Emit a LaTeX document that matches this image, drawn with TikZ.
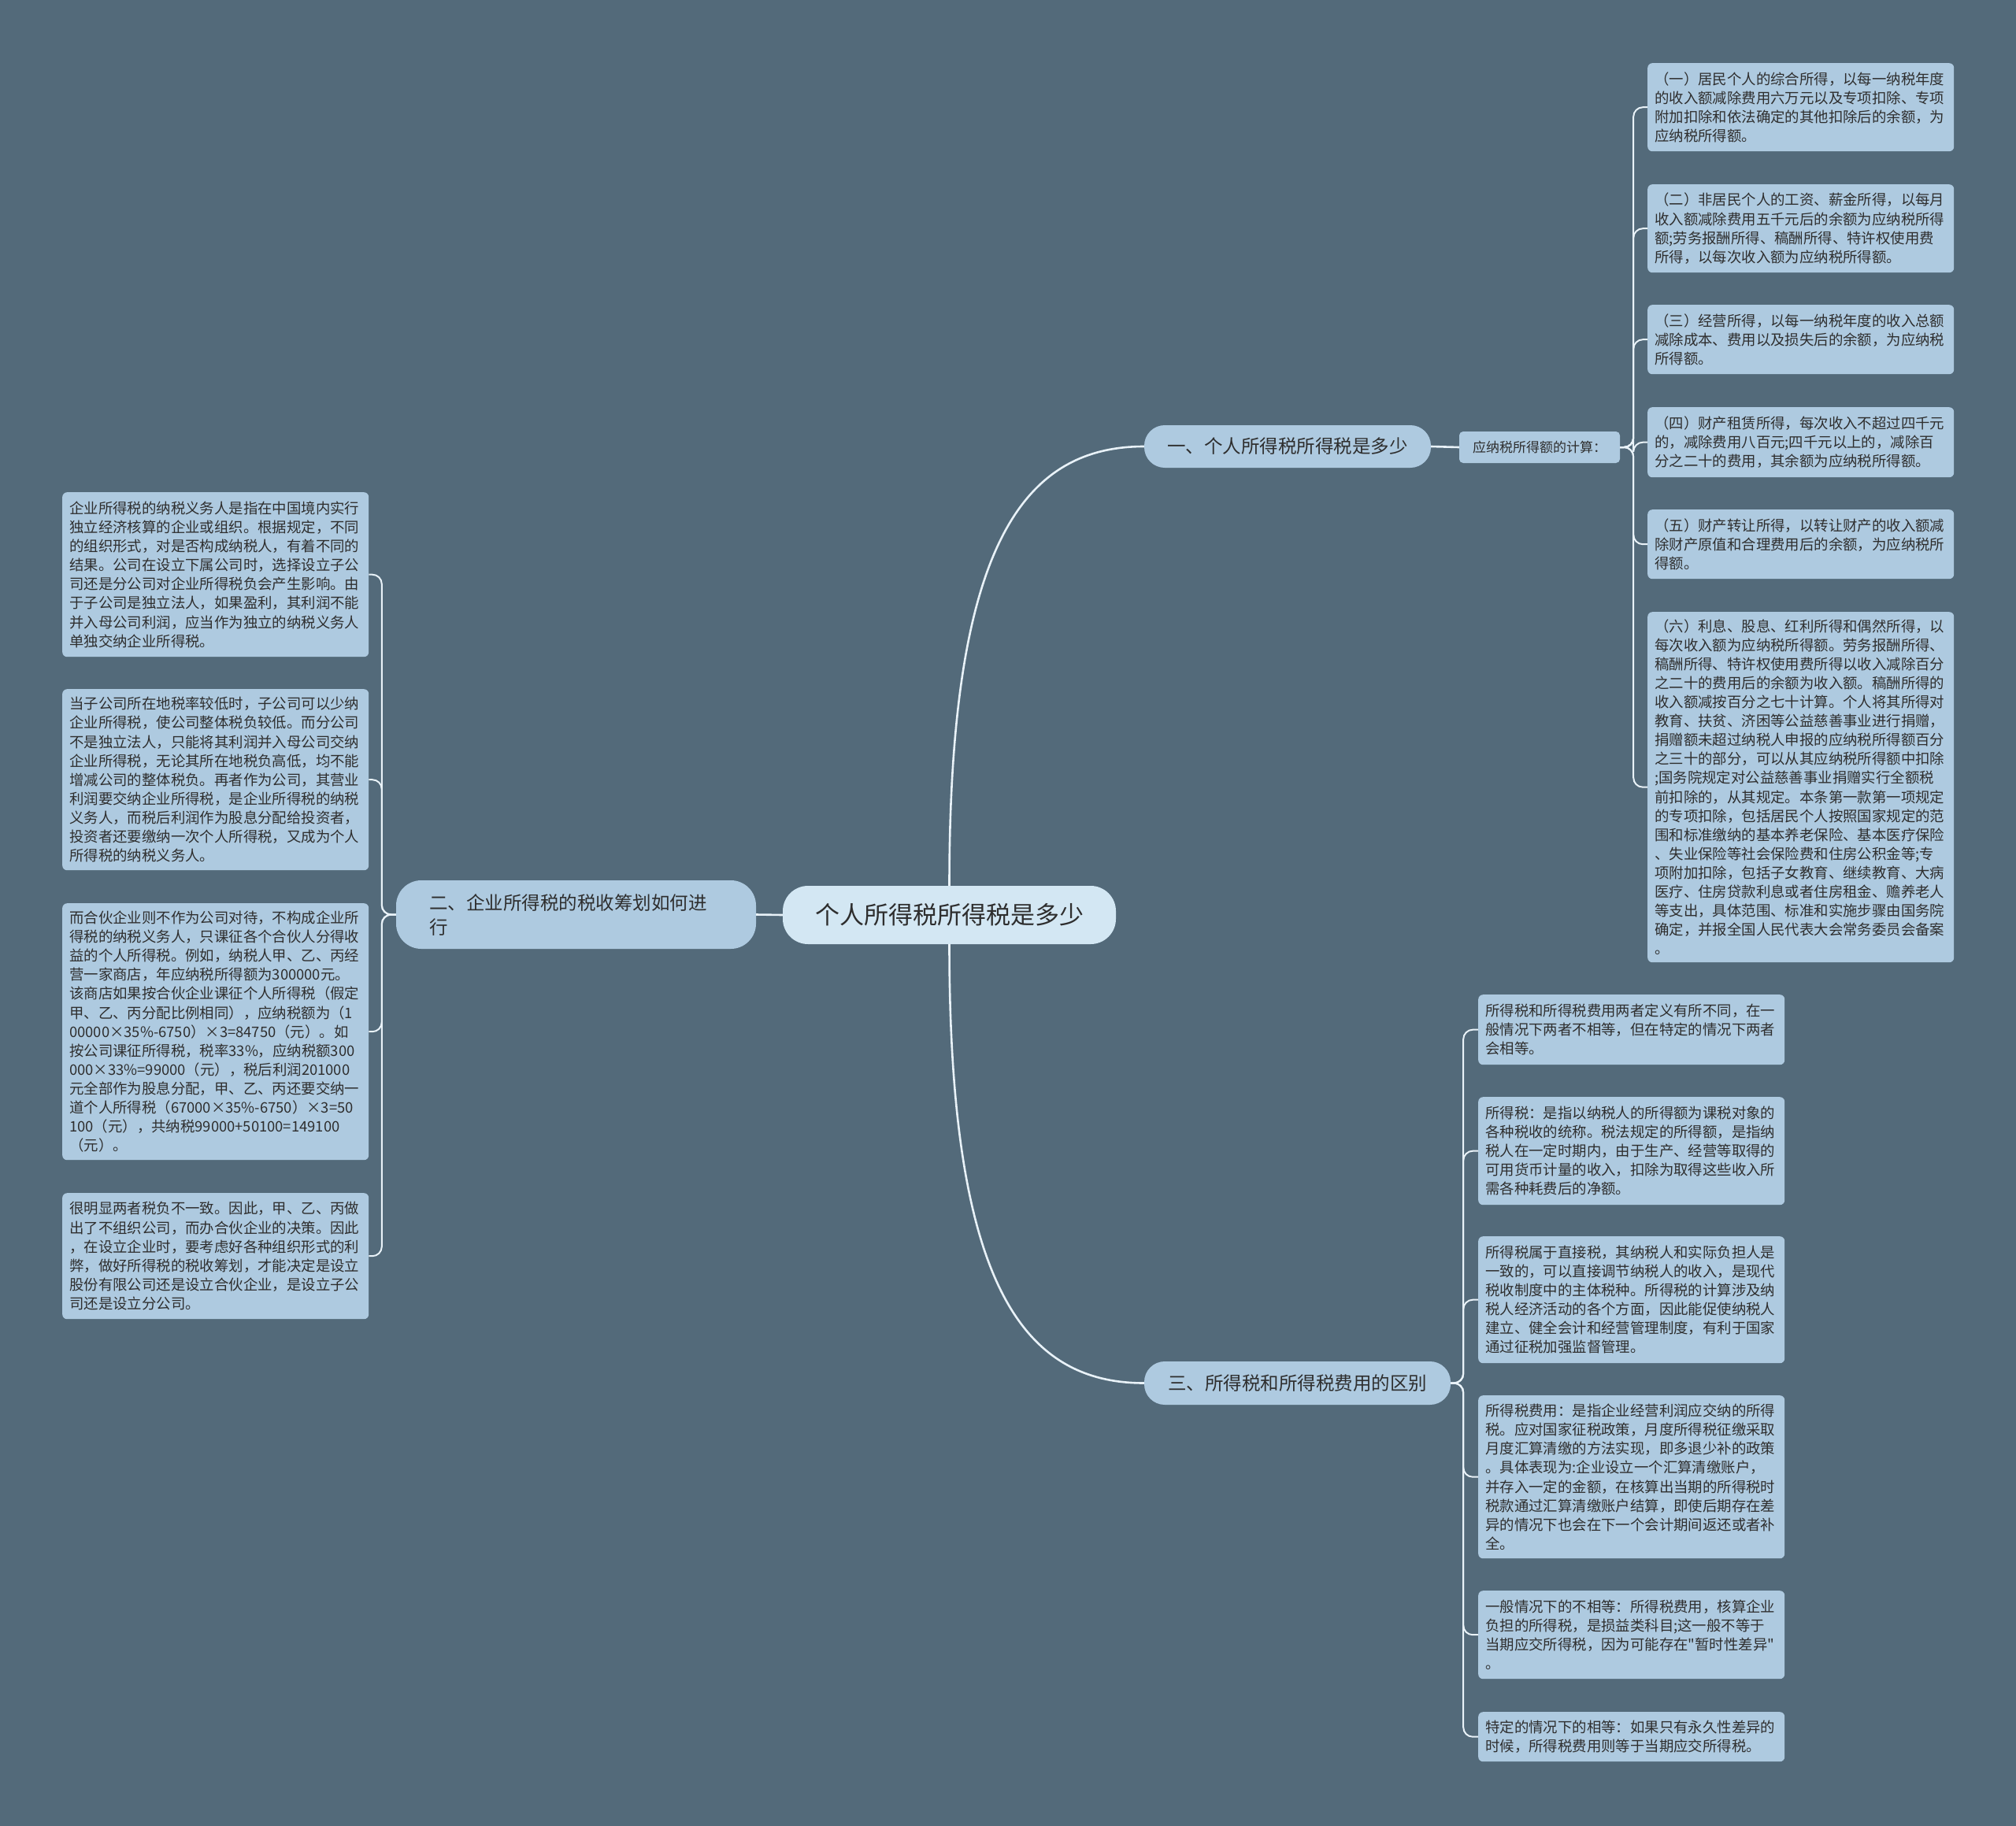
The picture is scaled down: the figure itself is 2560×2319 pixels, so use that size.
\documentclass[tikz,border=0pt]{standalone}
\usepackage{fontspec}
\setmainfont{Noto Sans CJK SC}[Ligatures=TeXOff]
\definecolor{bgc}{HTML}{536A7A}
\definecolor{leafc}{HTML}{AECAE0}
\definecolor{rootc}{HTML}{D3E7F3}
\definecolor{linec}{HTML}{E9F2F8}
\definecolor{txtc}{HTML}{2E2E2E}
\tikzset{
  leafbox/.style={fill=leafc, rounded corners=6bp, anchor=north west, text width=371bp,
    inner xsep=9bp, inner ysep=0bp, align=left, text=txtc,
    font=\fontsize{18.4bp}{24.1bp}\selectfont},
  branchbox/.style={fill=leafc, rounded corners=26bp, text=txtc, inner sep=0bp,
    font=\fontsize{23.5bp}{31bp}\selectfont},
  rootbox/.style={fill=rootc, rounded corners=32bp, text=txtc, inner sep=0bp,
    font=\fontsize{31bp}{38bp}\selectfont},
  calcbox/.style={fill=leafc, rounded corners=5bp, text=txtc, inner sep=0bp,
    font=\fontsize{17bp}{22bp}\selectfont},
  mainline/.style={draw=linec, line width=2.6bp},
  leafline/.style={draw=linec, line width=2bp, rounded corners=12bp},
}
\begin{document}
\begin{tikzpicture}[x=1bp,y=-1bp]
\fill[bgc] (0,0) rectangle (2560,2319);
\useasboundingbox (0,0) rectangle (2560,2319);

% root and branches
\node[rootbox, minimum width=423bp, minimum height=74bp] (root) at (1205.5,1162) {个人所得税所得税是多少};
\node[branchbox, minimum width=364bp, minimum height=54bp] (b1) at (1635,567) {一、个人所得税所得税是多少};
\node[branchbox, rounded corners=32bp, minimum width=457bp, minimum height=87bp, text width=373bp, inner xsep=42bp, align=left] (b2) at (731.5,1161.5) {二、企业所得税的税收筹划如何进\\行};
\node[branchbox, minimum width=389bp, minimum height=55bp] (b3) at (1647.5,1756.5) {三、所得税和所得税费用的区别};
\node[calcbox, minimum width=204bp, minimum height=40bp] (calc) at (1955,568) {应纳税所得额的计算：};

% right top leaves
\node[leafbox, minimum height=112bp] (r1) at (2092,80) {（一）居民个人的综合所得，以每一纳税年度\\的收入额减除费用六万元以及专项扣除、专项\\附加扣除和依法确定的其他扣除后的余额，为\\应纳税所得额。};
\node[leafbox, minimum height=112bp] (r2) at (2092,234) {（二）非居民个人的工资、薪金所得，以每月\\收入额减除费用五千元后的余额为应纳税所得\\额;劳务报酬所得、稿酬所得、特许权使用费\\所得，以每次收入额为应纳税所得额。};
\node[leafbox, minimum height=88bp] (r3) at (2092,387) {（三）经营所得，以每一纳税年度的收入总额\\减除成本、费用以及损失后的余额，为应纳税\\所得额。};
\node[leafbox, minimum height=89bp] (r4) at (2092,517) {（四）财产租赁所得，每次收入不超过四千元\\的，减除费用八百元;四千元以上的，减除百\\分之二十的费用，其余额为应纳税所得额。};
\node[leafbox, minimum height=88bp] (r5) at (2092,647) {（五）财产转让所得，以转让财产的收入额减\\除财产原值和合理费用后的余额，为应纳税所\\得额。};
\node[leafbox, minimum height=445bp] (r6) at (2092,777) {（六）利息、股息、红利所得和偶然所得，以\\每次收入额为应纳税所得额。劳务报酬所得、\\稿酬所得、特许权使用费所得以收入减除百分\\之二十的费用后的余额为收入额。稿酬所得的\\收入额减按百分之七十计算。个人将其所得对\\教育、扶贫、济困等公益慈善事业进行捐赠，\\捐赠额未超过纳税人申报的应纳税所得额百分\\之三十的部分，可以从其应纳税所得额中扣除\\;国务院规定对公益慈善事业捐赠实行全额税\\前扣除的，从其规定。本条第一款第一项规定\\的专项扣除，包括居民个人按照国家规定的范\\围和标准缴纳的基本养老保险、基本医疗保险\\、失业保险等社会保险费和住房公积金等;专\\项附加扣除，包括子女教育、继续教育、大病\\医疗、住房贷款利息或者住房租金、赡养老人\\等支出，具体范围、标准和实施步骤由国务院\\确定，并报全国人民代表大会常务委员会备案\\。};

% right bottom leaves
\node[leafbox, minimum height=89bp] (s1) at (1877,1263) {所得税和所得税费用两者定义有所不同，在一\\般情况下两者不相等，但在特定的情况下两者\\会相等。};
\node[leafbox, minimum height=137bp] (s2) at (1877,1393) {所得税：是指以纳税人的所得额为课税对象的\\各种税收的统称。税法规定的所得额，是指纳\\税人在一定时期内，由于生产、经营等取得的\\可用货币计量的收入，扣除为取得这些收入所\\需各种耗费后的净额。};
\node[leafbox, minimum height=161bp] (s3) at (1877,1570) {所得税属于直接税，其纳税人和实际负担人是\\一致的，可以直接调节纳税人的收入，是现代\\税收制度中的主体税种。所得税的计算涉及纳\\税人经济活动的各个方面，因此能促使纳税人\\建立、健全会计和经营管理制度，有利于国家\\通过征税加强监督管理。};
\node[leafbox, minimum height=207bp] (s4) at (1877,1772) {所得税费用：是指企业经营利润应交纳的所得\\税。应对国家征税政策，月度所得税征缴采取\\月度汇算清缴的方法实现，即多退少补的政策\\。具体表现为:企业设立一个汇算清缴账户，\\并存入一定的金额，在核算出当期的所得税时\\税款通过汇算清缴账户结算，即使后期存在差\\异的情况下也会在下一个会计期间返还或者补\\全。};
\node[leafbox, minimum height=112bp] (s5) at (1877,2020) {一般情况下的不相等：所得税费用，核算企业\\负担的所得税，是损益类科目;这一般不等于\\当期应交所得税，因为可能存在"暂时性差异"\\。};
\node[leafbox, minimum height=63bp] (s6) at (1877,2174) {特定的情况下的相等：如果只有永久性差异的\\时候，所得税费用则等于当期应交所得税。};

% left leaves
\node[leafbox, minimum height=209bp] (l1) at (79,625) {企业所得税的纳税义务人是指在中国境内实行\\独立经济核算的企业或组织。根据规定，不同\\的组织形式，对是否构成纳税人，有着不同的\\结果。公司在设立下属公司时，选择设立子公\\司还是分公司对企业所得税负会产生影响。由\\于子公司是独立法人，如果盈利，其利润不能\\并入母公司利润，应当作为独立的纳税义务人\\单独交纳企业所得税。};
\node[leafbox, minimum height=230bp] (l2) at (79,875) {当子公司所在地税率较低时，子公司可以少纳\\企业所得税，使公司整体税负较低。而分公司\\不是独立法人，只能将其利润并入母公司交纳\\企业所得税，无论其所在地税负高低，均不能\\增减公司的整体税负。再者作为公司，其营业\\利润要交纳企业所得税，是企业所得税的纳税\\义务人，而税后利润作为股息分配给投资者，\\投资者还要缴纳一次个人所得税，又成为个人\\所得税的纳税义务人。};
\node[leafbox, minimum height=326bp] (l3) at (79,1147) {而合伙企业则不作为公司对待，不构成企业所\\得税的纳税义务人，只课征各个合伙人分得收\\益的个人所得税。例如，纳税人甲、乙、丙经\\营一家商店，年应纳税所得额为300000元。\\该商店如果按合伙企业课征个人所得税（假定\\甲、乙、丙分配比例相同），应纳税额为（1\\00000×35\%-6750）×3=84750（元）。如\\按公司课征所得税，税率33\%，应纳税额300\\000×33\%=99000（元），税后利润201000\\元全部作为股息分配，甲、乙、丙还要交纳一\\道个人所得税（67000×35\%-6750）×3=50\\100（元），共纳税99000+50100=149100\\（元）。};
\node[leafbox, minimum height=160bp] (l4) at (79,1515) {很明显两者税负不一致。因此，甲、乙、丙做\\出了不组织公司，而办合伙企业的决策。因此\\，在设立企业时，要考虑好各种组织形式的利\\弊，做好所得税的税收筹划，才能决定是设立\\股份有限公司还是设立合伙企业，是设立子公\\司还是设立分公司。};

% main connectors
\draw[mainline] (root.north) .. controls +(0,-420) and +(-160,0) .. (b1.west);
\draw[mainline] (root.south) .. controls +(0,420) and +(-160,0) .. (b3.west);
\draw[mainline] (root.west) -- (b2.east);
\draw[mainline] (b1.east) -- (calc.west);

% leaf connectors
\foreach \n in {r1,r2,r3,r4,r5,r6}
  \draw[leafline] (calc.east) -- ++(17,0) |- (\n.west);
\foreach \n in {s1,s2,s3,s4,s5,s6}
  \draw[leafline] (b3.east) -- ++(16,0) |- (\n.west);
\foreach \n in {l1,l2,l3,l4}
  \draw[leafline] (b2.west) -- ++(-18,0) |- (\n.east);
\end{tikzpicture}
\end{document}
